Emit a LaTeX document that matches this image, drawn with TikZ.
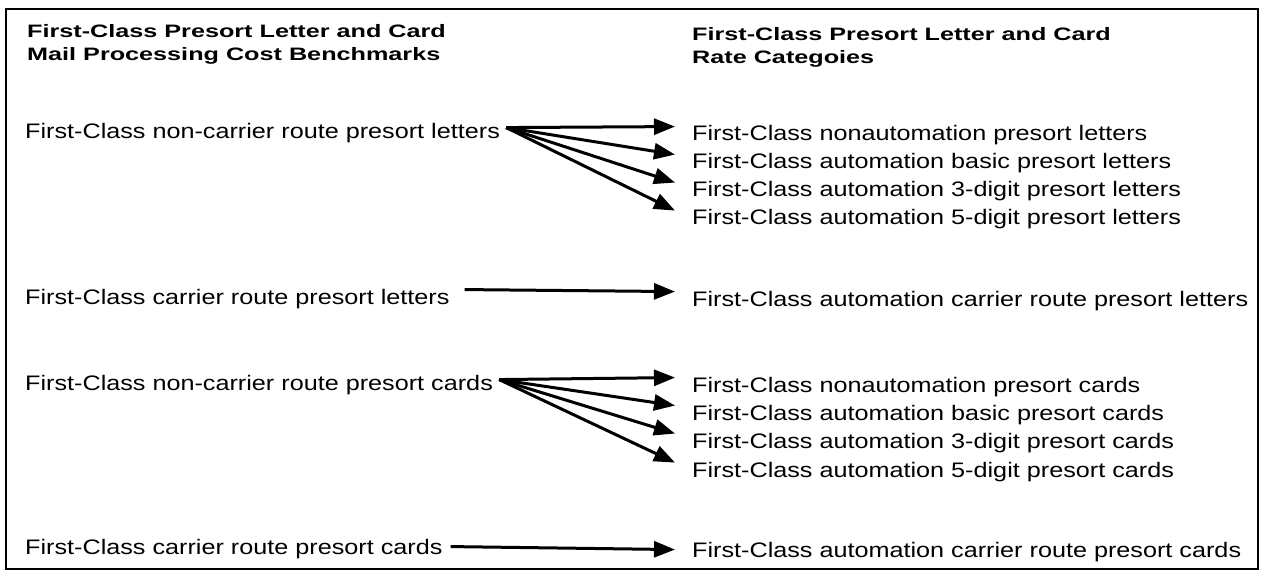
\documentclass[tikz,border=0pt]{standalone}
\usepackage{fontspec}
\setmainfont[FakeStretch=1.2]{Liberation Sans}
\newfontfamily\headfont[FakeStretch=1.4]{Liberation Sans}
\usetikzlibrary{arrows.meta}
\tikzset{
	cat/.style={anchor=base west,inner sep=0pt,font=\fontsize{21}{28}\selectfont},
	head/.style={anchor=base west,inner sep=0pt,align=left,font=\headfont\bfseries\fontsize{18}{24}\selectfont},
	link/.style={line width=3pt,-{Triangle[length=21pt,width=16pt]}}
}
\begin{document}
\begin{tikzpicture}[x=1pt,y=1pt]
		\useasboundingbox (0,0) rectangle (1262,-578);
		\draw [line width=1.6pt] (6,-9) rectangle (1258,-569);
		\node [head] (hb) at (27,-61) {First-Class Presort Letter and Card\\Mail Processing Cost Benchmarks};
		\node [head] (hr) at (692,-64) {First-Class Presort Letter and Card\\Rate Categoies};
		\node [cat] (l1) at (25,-139) {First-Class non-carrier route presort letters};
		\node [cat] (l2) at (25,-304) {First-Class carrier route presort letters};
		\node [cat] (l3) at (25,-390) {First-Class non-carrier route presort cards};
		\node [cat] (l4) at (25,-554) {First-Class carrier route presort cards};
		\node [cat] (r1) at (692,-140) {First-Class nonautomation presort letters};
		\node [cat] (r2) at (692,-168) {First-Class automation basic presort letters};
		\node [cat] (r3) at (692,-196) {First-Class automation 3-digit presort letters};
		\node [cat] (r4) at (692,-224) {First-Class automation 5-digit presort letters};
		\node [cat] (r5) at (692,-306) {First-Class automation carrier route presort letters};
		\node [cat] (r6) at (692,-392) {First-Class nonautomation presort cards};
		\node [cat] (r7) at (692,-420) {First-Class automation basic presort cards};
		\node [cat] (r8) at (692,-448) {First-Class automation 3-digit presort cards};
		\node [cat] (r9) at (692,-477) {First-Class automation 5-digit presort cards};
		\node [cat] (r10) at (692,-557) {First-Class automation carrier route presort cards};
		\coordinate (h1) at ([xshift=6pt,yshift=6pt]l1.east);
		\coordinate (h3) at ([xshift=6pt,yshift=5pt]l3.east);
		\foreach \r in {r1,r2,r3,r4}
			\draw [link] (h1) -- ([xshift=-17pt,yshift=8pt]\r.west);
		\foreach \r in {r6,r7,r8,r9}
			\draw [link] (h3) -- ([xshift=-17pt,yshift=9pt]\r.west);
		\draw [link] ([xshift=15pt,yshift=9pt]l2.east) -- ([xshift=-17pt,yshift=9pt]r5.west);
		\draw [link] ([xshift=8pt,yshift=2pt]l4.east) -- ([xshift=-17pt,yshift=2pt]r10.west);
\end{tikzpicture}
\end{document}
